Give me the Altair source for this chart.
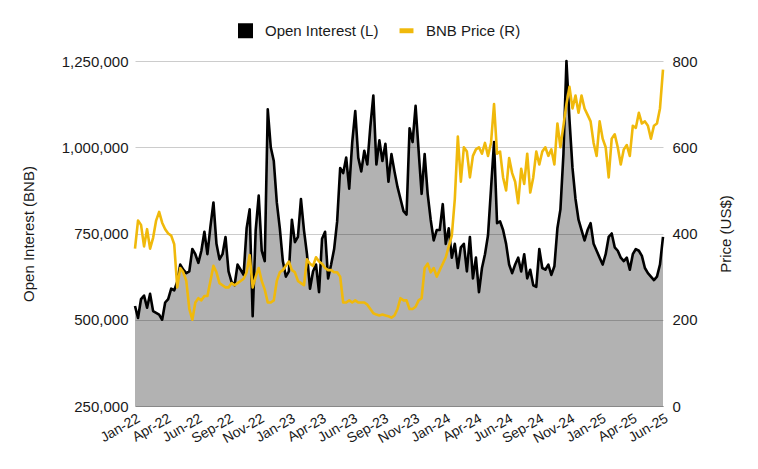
import altair as alt
import pandas as pd

OI_LABEL = "Open Interest (L)"
PRICE_LABEL = "BNB Price (R)"

# Open interest in thousands of BNB, roughly weekly readings from Jan-2022 to Jul-2025
OI_K = [
    540, 505, 560, 570, 535, 575, 525, 520, 515, 500,
    550, 560, 590, 585, 610, 660, 645, 635, 640, 705,
    690, 665, 700, 755, 690, 770, 840, 720, 675, 690,
    740, 640, 610, 600, 660, 645, 630, 765, 820, 510,
    760, 860, 700, 670, 1110, 1000, 960, 840, 765, 670,
    625, 640, 790, 725, 740, 850, 760, 690, 590, 640,
    660, 580, 735, 755, 620, 660, 705, 785, 940, 925,
    970, 880, 1015, 1105, 970, 930, 990, 950, 1060, 1150,
    950, 1020, 960, 1010, 900, 980, 930, 885, 850, 815,
    805, 1055, 1015, 1120, 990, 865, 980, 865, 790, 730,
    760, 760, 835, 720, 765, 680, 720, 650, 710, 720,
    640, 740, 620, 680, 580, 650, 690, 745, 880, 1015,
    780, 785, 760, 720, 660, 635, 660, 680, 640, 690,
    620, 645, 600, 595, 705, 650, 645, 660, 630, 655,
    765, 820, 980, 1250, 1080, 940, 850, 790, 760, 730,
    760, 780, 720, 700, 680, 660, 690, 740, 750, 710,
    700, 680, 670, 680, 645, 690, 705, 700, 685, 650,
    635, 625, 615, 625, 660, 740,
]

# BNB price in US$
PRICE = [
    365, 430, 420, 370, 410, 365, 390, 430, 450, 425,
    410, 400, 395, 375, 275, 320, 310, 290, 225, 200,
    240, 250, 245, 255, 255, 290, 325, 310, 285, 280,
    275, 275, 285, 280, 285, 290, 295, 310, 350, 275,
    300, 320, 290, 270, 240, 240, 245, 290, 310, 315,
    325, 335, 315, 310, 290, 285, 280, 340, 330, 325,
    345, 335, 330, 320, 315, 315, 310, 310, 300, 240,
    240, 245, 240, 245, 240, 240, 240, 235, 225, 215,
    212, 210, 212, 210, 208, 205, 210, 225, 250, 245,
    245, 225, 225, 230, 245, 250, 320, 330, 310, 320,
    300, 315, 330, 345, 370, 395, 480, 625, 520, 600,
    590, 530, 580, 595, 600, 585, 610, 580, 610, 700,
    585, 590, 530, 500, 575, 540, 520, 470, 550, 515,
    585, 495, 530, 590, 560, 590, 600, 580, 595, 560,
    655, 600, 650, 700, 740, 690, 720, 680, 720, 690,
    675, 660, 610, 580, 660, 620, 600, 530, 620, 630,
    600, 560, 595, 605, 580, 650, 645, 680, 655, 660,
    650, 620, 650, 655, 690, 780,
]

TICK_LABELS = [
    "Jan-22", "Apr-22", "Jun-22", "Sep-22", "Nov-22", "Jan-23", "Apr-23",
    "Jun-23", "Sep-23", "Nov-23", "Jan-24", "Apr-24", "Jun-24", "Sep-24",
    "Nov-24", "Jan-25", "Apr-25", "Jun-25",
]

OI_TICKS = [250000, 500000, 750000, 1000000, 1250000]
PRICE_TICKS = [0, 200, 400, 600, 800]

YELLOW = "#F0B90B"
FONT = "Liberation Sans"
TEXT = "#1a1a1a"
BAR_SHAPE = "M-0.93,-0.33L0.93,-0.33L0.93,0.33L-0.93,0.33Z"

dates = pd.date_range("2022-01-01", "2025-07-25", periods=len(OI_K))
t0 = int(dates[0].value // 10**6)
t1 = int(dates[-1].value // 10**6)
n_int = len(TICK_LABELS) - 1
dt = (t1 - t0) / n_int
tick_vals = [t0 + round(k * dt) for k in range(len(TICK_LABELS))]
label_arr = "[" + ",".join("'" + s + "'" for s in TICK_LABELS) + "]"
label_expr = f"{label_arr}[round((datum.value - {t0}) / {dt})]"

date_str = list(dates.strftime("%Y-%m-%dT%H:%M:%SZ"))
oi = pd.DataFrame({"date": date_str, "value": [v * 1000 for v in OI_K], "series": OI_LABEL})
pr = pd.DataFrame({"date": date_str, "value": PRICE, "series": PRICE_LABEL})
df = pd.concat([oi, pr], ignore_index=True)

x_enc = alt.X(
    "date:T",
    scale=alt.Scale(domain=[t0, t1], nice=False),
    axis=alt.Axis(
        values=tick_vals, labelExpr=label_expr, title=None, labelAngle=-30,
        labelAlign="right", labelBaseline="top", labelFontSize=14, labelPadding=5,
        ticks=False, grid=False, domainColor="#888888", labelOverlap=False,
        labelColor=TEXT,
    ),
)

legend_props = dict(
    orient="none", legendX=103, legendY=-38, direction="horizontal", title=None,
    symbolSize=225, labelFontSize=15, labelOffset=12, columnPadding=20,
    labelColor=TEXT, labelFont=FONT, symbolStrokeWidth=0,
)

y_left = alt.Y(
    "value:Q",
    scale=alt.Scale(domain=[250000, 1250000], nice=False, zero=False),
    axis=alt.Axis(
        values=OI_TICKS, format=",d", title="Open Interest (BNB)", titleFontSize=15,
        titleFontWeight="normal", titlePadding=25, labelFontSize=15, labelPadding=7,
        ticks=False, domain=False, gridColor="#cccccc", labelColor=TEXT, titleColor=TEXT,
    ),
)

base_oi = alt.Chart(df).transform_filter(alt.datum.series == OI_LABEL)

area = base_oi.mark_area(color="#000000", opacity=0.3).encode(
    x=x_enc, y=y_left, y2=alt.datum(250000)
)
oi_line = base_oi.mark_line(color="#000000", strokeWidth=2.6, strokeJoin="round").encode(
    x=x_enc, y=y_left
)

# legend-only layer (no rows pass the filter; scales have explicit domains)
legend_layer = alt.Chart(df).transform_filter("false").mark_point(filled=True, opacity=1).encode(
    color=alt.Color(
        "series:N",
        scale=alt.Scale(domain=[OI_LABEL, PRICE_LABEL], range=["#000000", YELLOW]),
        legend=alt.Legend(**legend_props),
    ),
    shape=alt.Shape(
        "series:N",
        scale=alt.Scale(domain=[OI_LABEL, PRICE_LABEL], range=["square", BAR_SHAPE]),
        legend=alt.Legend(**legend_props),
    ),
)

price_line = alt.Chart(df).transform_filter(alt.datum.series == PRICE_LABEL).mark_line(
    color=YELLOW, strokeWidth=2.6, strokeJoin="round"
).encode(
    x=x_enc,
    y=alt.Y(
        "value:Q",
        scale=alt.Scale(domain=[0, 800], nice=False),
        axis=alt.Axis(
            values=PRICE_TICKS, orient="right", title="Price (US$)", titleFontSize=15,
            titleFontWeight="normal", titleAngle=270, titlePadding=36, labelFontSize=15,
            labelPadding=9, ticks=False, domain=False, grid=False, labelColor=TEXT,
            titleColor=TEXT,
        ),
    ),
)

left = alt.layer(area, oi_line, legend_layer)
chart = alt.layer(left, price_line).resolve_scale(y="independent").properties(
    width=528, height=345,
    autosize=alt.AutoSizeParams(type="none"),
    padding={"left": 127, "top": 53, "right": 87, "bottom": 55},
).configure(font=FONT).configure_view(stroke=None)

chart.save("out.html", embed_options={"renderer": "svg", "actions": False})
